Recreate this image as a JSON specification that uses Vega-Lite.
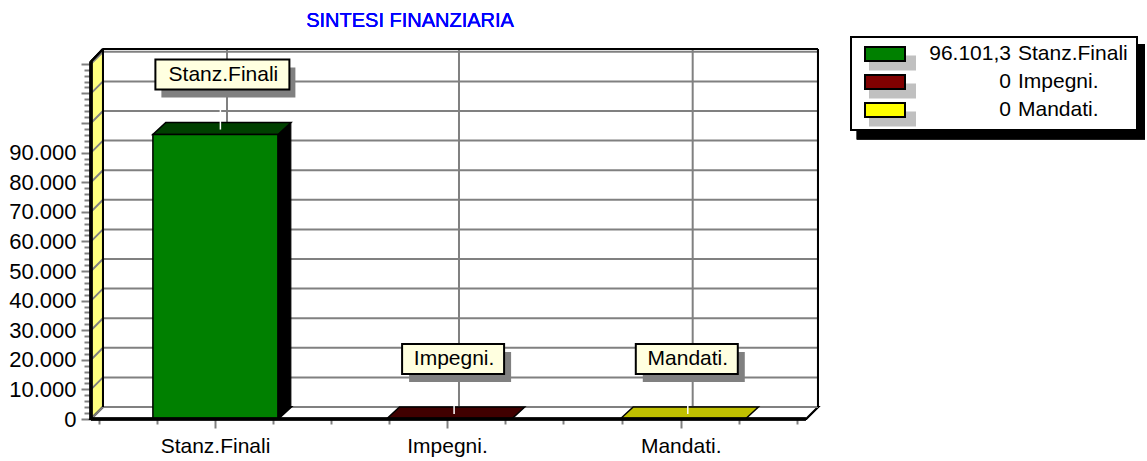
{
"$schema":"https://vega.github.io/schema/vega-lite/v6.json",
"width":1147,"padding":0,"spacing":0,"background":"white",
"config":{"view":{"stroke":null},"font":"Liberation Sans","text":{"font":"Liberation Sans"},"axis":{"labelFont":"Liberation Sans"}},
"datasets":{
"bars":[
{"label":"Stanz.Finali","value":96101.3,"pos":1,"order":1,"valueText":"96.101,3"},
{"label":"Impegni.","value":0,"pos":2,"order":2,"valueText":"0"},
{"label":"Mandati.","value":0,"pos":3,"order":3,"valueText":"0"}],
"grid":[{"v":0},{"v":10000},{"v":20000},{"v":30000},{"v":40000},{"v":50000},{"v":60000},{"v":70000},{"v":80000},{"v":90000},{"v":100000},{"v":110000},{"v":120000}],
"cats":[{"g":0.9983},{"g":1.991},{"g":2.991}]
},
"hconcat":[
{"width":840,"height":461,
"data":{"name":"bars"},
"resolve":{"scale":{"color":"independent"},"axis":{"x":"independent","y":"independent"}},
"encoding":{},
"layer":[
{"mark":{"type":"point","filled":true,"fill":"#FFFF80","stroke":"black","strokeWidth":1,"opacity":1,"size":640000,"shape":"M0,0L0.03,-0.03L0.03,-0.925L0,-0.894Z"},
 "encoding":{"x":{"datum":0.4677,"type":"quantitative","scale":{"domain":[0.0783,3.6727],"nice":false,"zero":false},
   "axis":{"orient":"bottom","offset":-42,"values":[0.9983,1.991,2.991],"domain":false,"grid":false,"title":null,"tickSize":9,"tickWidth":2,"tickColor":"#808080","labelFontSize":21,"labelColor":"black","labelPadding":7,"labelExpr":"round(datum.value)==1?'Stanz.Finali':round(datum.value)==2?'Impegni.':'Mandati.'"}},
  "y":{"datum":0,"type":"quantitative","scale":{"domain":[-14189,141554],"nice":false,"zero":false},
   "axis":{"orient":"left","offset":-91,"values":[0,10000,20000,30000,40000,50000,60000,70000,80000,90000,100000,110000,120000],"domain":false,"grid":false,"title":null,"tickSize":10,"tickWidth":2,"tickColor":"#808080","labelFontSize":22,"labelColor":"black","labelPadding":5,"labelExpr":"datum.value<=90000?replace(format(datum.value,','),',','.'):''"}}}},
{"mark":{"type":"point","filled":true,"fill":"white","stroke":"black","strokeWidth":2,"opacity":1,"size":640000,"shape":"M0,0L0.03,-0.03L1.8175,-0.03L1.7875,0Z"},
 "encoding":{"x":{"datum":0.4677,"type":"quantitative","axis":{"orient":"bottom","offset":-42,"values":[0.5032,0.7501,1.2465,1.4947,1.7428,2.2392,2.4874,2.7398,3.2392,3.4887],"domain":false,"grid":false,"title":null,"labels":false,"tickSize":5,"tickWidth":2,"tickColor":"#808080"}},
  "y":{"datum":0,"type":"quantitative","axis":{"orient":"left","offset":-91,"values":[2000,4000,6000,8000,12000,14000,16000,18000,22000,24000,26000,28000,32000,34000,36000,38000,42000,44000,46000,48000,52000,54000,56000,58000,62000,64000,66000,68000,72000,74000,76000,78000,82000,84000,86000,88000,92000,94000,96000,98000,102000,104000,106000,108000,112000,114000,116000,118000],"domain":false,"grid":false,"title":null,"labels":false,"tickSize":7,"tickWidth":2,"tickColor":"#808080"}}}},
{"data":{"name":"grid"},"mark":{"type":"rule","color":"#808080","strokeWidth":2,"yOffset":-12},
 "encoding":{"y":{"field":"v","type":"quantitative","axis":null},"x":{"datum":0.519,"type":"quantitative","axis":null},"x2":{"datum":3.5785}}},
{"data":{"name":"grid"},"mark":{"type":"rule","color":"#808080","strokeWidth":2,"y2Offset":-12},
 "encoding":{"y":{"field":"v","type":"quantitative","axis":null},"y2":{"field":"v"},"x":{"datum":0.4677,"type":"quantitative","axis":null},"x2":{"datum":0.519}}},
{"data":{"name":"cats"},"mark":{"type":"rule","color":"#808080","strokeWidth":2,"xOffset":12},
 "encoding":{"x":{"field":"g","type":"quantitative","axis":null},"y":{"datum":4054,"type":"quantitative","axis":null},"y2":{"datum":125000}}},
{"mark":{"type":"rule","color":"black","strokeWidth":2},"encoding":{"x":{"datum":0.519,"type":"quantitative","axis":null},"x2":{"datum":3.5785},"y":{"datum":125000,"type":"quantitative","axis":null}}},
{"mark":{"type":"rule","color":"black","strokeWidth":2},"encoding":{"x":{"datum":3.5785,"type":"quantitative","axis":null},"y":{"datum":4054,"type":"quantitative","axis":null},"y2":{"datum":125000}}},
{"mark":{"type":"rule","color":"black","strokeWidth":2},"encoding":{"x":{"datum":0.519,"type":"quantitative","axis":null},"y":{"datum":4054,"type":"quantitative","axis":null},"y2":{"datum":125000}}},
{"mark":{"type":"rule","color":"black","strokeWidth":2},"encoding":{"x":{"datum":0.4677,"type":"quantitative","axis":null},"x2":{"datum":0.519},"y":{"datum":120777,"type":"quantitative","axis":null},"y2":{"datum":125000}}},
{"transform":[{"filter":"datum.value>0"}],"mark":{"type":"point","filled":true,"fill":"black","stroke":"black","opacity":1,"size":640000,"shape":"M-0.1565,0L-0.124,-0.03L0.189,-0.03L0.1565,0Z"},
 "encoding":{"x":{"field":"pos","type":"quantitative","axis":null},"y":{"datum":0,"type":"quantitative","axis":null}}},
{"transform":[{"filter":"datum.value>0"}],"mark":{"type":"rect","fill":"black","stroke":"black","width":125,"xOffset":13,"yOffset":-12,"y2Offset":-12},
 "encoding":{"x":{"field":"pos","type":"quantitative","axis":null},"y":{"field":"value","type":"quantitative","axis":null},"y2":{"datum":0}}},
{"mark":{"type":"point","filled":true,"stroke":"black","strokeWidth":1.5,"opacity":1,"size":640000,"shape":"M-0.1565,0L-0.124,-0.03L0.189,-0.03L0.1565,0Z"},
 "encoding":{"x":{"field":"pos","type":"quantitative","axis":null},"y":{"field":"value","type":"quantitative","axis":null},
  "color":{"field":"label","type":"nominal","legend":null,"scale":{"domain":["Stanz.Finali","Impegni.","Mandati."],"range":["#004000","#400000","#C0C000"]}}}},
{"transform":[{"filter":"datum.value>0"}],"mark":{"type":"rect","stroke":"black","strokeWidth":1.5,"width":125},
 "encoding":{"x":{"field":"pos","type":"quantitative","axis":null},"y":{"field":"value","type":"quantitative","axis":null},"y2":{"datum":0},
  "color":{"field":"label","type":"nominal","legend":null,"scale":{"domain":["Stanz.Finali","Impegni.","Mandati."],"range":["#008000","#800000","#FFFF00"]}}}},
{"mark":{"type":"rule","color":"black","strokeWidth":3},"encoding":{"x":{"datum":0.4677,"type":"quantitative","axis":null},"x2":{"datum":3.5268},"y":{"datum":0,"type":"quantitative","axis":null}}},
{"mark":{"type":"rule","color":"black","strokeWidth":3},"encoding":{"x":{"datum":0.4677,"type":"quantitative","axis":null},"y":{"datum":0,"type":"quantitative","axis":null},"y2":{"datum":120777}}},
{"mark":{"type":"rule","color":"white","strokeWidth":1.5,"xOffset":5,"yOffset":-45,"y2Offset":-5},
 "encoding":{"x":{"field":"pos","type":"quantitative","axis":null},"y":{"field":"value","type":"quantitative","axis":null},"y2":{"field":"value"}}},
{"transform":[{"filter":"datum.pos==1"}],"mark":{"type":"rect","fill":"#808080","width":134,"height":30,"xOffset":13,"yOffset":-52},
 "encoding":{"x":{"field":"pos","type":"quantitative","axis":null},"y":{"field":"value","type":"quantitative","axis":null}}},
{"transform":[{"filter":"datum.pos==1"}],"mark":{"type":"rect","fill":"#FFFFE0","stroke":"black","strokeWidth":2,"width":134,"height":30,"xOffset":7,"yOffset":-60},
 "encoding":{"x":{"field":"pos","type":"quantitative","axis":null},"y":{"field":"value","type":"quantitative","axis":null}}},
{"transform":[{"filter":"datum.pos>1"}],"mark":{"type":"rect","fill":"#808080","width":102,"height":30,"xOffset":11,"yOffset":-52},
 "encoding":{"x":{"field":"pos","type":"quantitative","axis":null},"y":{"field":"value","type":"quantitative","axis":null}}},
{"transform":[{"filter":"datum.pos>1"}],"mark":{"type":"rect","fill":"#FFFFE0","stroke":"black","strokeWidth":2,"width":102,"height":30,"xOffset":4,"yOffset":-60},
 "encoding":{"x":{"field":"pos","type":"quantitative","axis":null},"y":{"field":"value","type":"quantitative","axis":null}}},
{"transform":[{"filter":"datum.pos==1"}],"mark":{"type":"text","fontSize":21,"color":"black","xOffset":8,"yOffset":-60},
 "encoding":{"x":{"field":"pos","type":"quantitative","axis":null},"y":{"field":"value","type":"quantitative","axis":null},"text":{"field":"label"}}},
{"transform":[{"filter":"datum.pos>1"}],"mark":{"type":"text","fontSize":21,"color":"black","xOffset":5,"yOffset":-60},
 "encoding":{"x":{"field":"pos","type":"quantitative","axis":null},"y":{"field":"value","type":"quantitative","axis":null},"text":{"field":"label"}}},
{"mark":{"type":"text","fontSize":20,"color":"#0000FF","text":"SINTESI FINANZIARIA"},
 "encoding":{"x":{"datum":1.833,"type":"quantitative","axis":null},"y":{"datum":134500,"type":"quantitative","axis":null}}}
]},
{"width":307,"height":461,
"data":{"name":"bars"},
"encoding":{},
"layer":[
{"mark":{"type":"rect","fill":"black"},"encoding":{"x":{"datum":856.7,"type":"quantitative","axis":null,"scale":{"domain":[840,1147],"nice":false,"zero":false}},"x2":{"datum":1145},"y":{"datum":0.643,"type":"quantitative","axis":null,"scale":{"domain":[15.536,-0.9286],"nice":false,"zero":false}},"y2":{"datum":4.054}}},
{"mark":{"type":"rect","fill":"white","stroke":"black","strokeWidth":2},"encoding":{"x":{"datum":851,"type":"quantitative","axis":null},"x2":{"datum":1137},"y":{"datum":0.393,"type":"quantitative","axis":null},"y2":{"datum":3.714}}},
{"mark":{"type":"rect","fill":"#C0C0C0","height":15,"yOffset":9},"encoding":{"x":{"datum":869,"type":"quantitative","axis":null},"x2":{"datum":916},"y":{"field":"order","type":"quantitative","axis":null}}},
{"mark":{"type":"rect","stroke":"black","strokeWidth":2,"height":14},"encoding":{"x":{"datum":865,"type":"quantitative","axis":null},"x2":{"datum":905},"y":{"field":"order","type":"quantitative","axis":null},
 "color":{"field":"label","type":"nominal","legend":null,"scale":{"domain":["Stanz.Finali","Impegni.","Mandati."],"range":["#008000","#800000","#FFFF00"]}}}},
{"mark":{"type":"text","fontSize":21,"align":"right","color":"black"},"encoding":{"x":{"datum":1011,"type":"quantitative","axis":null},"y":{"field":"order","type":"quantitative","axis":null},"text":{"field":"valueText"}}},
{"mark":{"type":"text","fontSize":21,"align":"left","color":"black"},"encoding":{"x":{"datum":1018,"type":"quantitative","axis":null},"y":{"field":"order","type":"quantitative","axis":null},"text":{"field":"label"}}}
]}
]
}
